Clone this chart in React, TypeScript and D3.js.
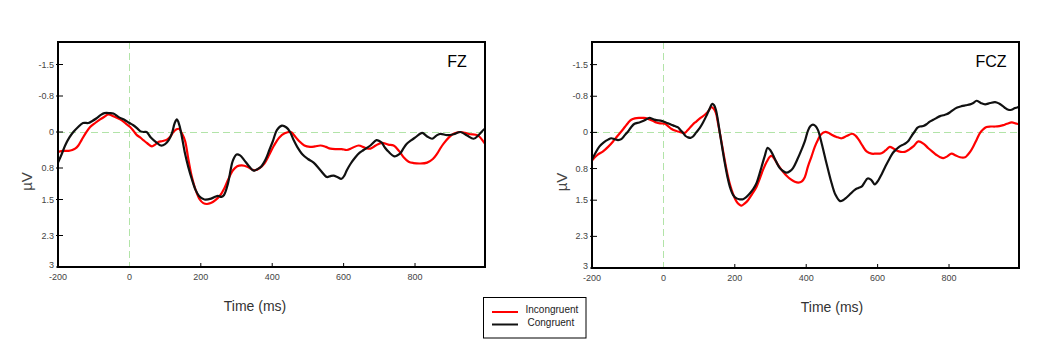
import React, { useEffect, useRef } from 'react';
import * as d3 from 'd3';

// [time in ms, amplitude in µV]; negative is plotted upward
const fzCongruent: [number, number][] = [
  [-200, 0.68], [-190, 0.5], [-180, 0.3], [-168, 0.12], [-157, 0.0], [-145, -0.1], [-130, -0.2], [-115, -0.2],
  [-105, -0.24], [-93, -0.3], [-80, -0.38], [-70, -0.42], [-55, -0.42], [-45, -0.41], [-30, -0.33], [-12, -0.26],
  [0, -0.2], [11, -0.15], [22, -0.08], [30, -0.02], [40, 0.0], [48, 0.0], [60, 0.12], [77, 0.24], [88, 0.3],
  [100, 0.27], [110, 0.18], [119, 0.03], [127, -0.2], [133, -0.28], [140, -0.15], [148, 0.15], [155, 0.45],
  [165, 0.78], [175, 1.05], [185, 1.28], [195, 1.42], [210, 1.5], [229, 1.48], [240, 1.44], [248, 1.42],
  [258, 1.44], [265, 1.4], [276, 1.15], [284, 0.82], [290, 0.63], [300, 0.5], [310, 0.52], [322, 0.63],
  [335, 0.76], [348, 0.86], [360, 0.82], [370, 0.76], [382, 0.6], [392, 0.4], [402, 0.2], [413, -0.04],
  [427, -0.14], [440, -0.1], [450, 0.0], [460, 0.18], [470, 0.33], [485, 0.5], [500, 0.6], [516, 0.68],
  [535, 0.85], [553, 1.0], [563, 0.98], [572, 0.97], [582, 1.0], [594, 1.04], [602, 0.97], [609, 0.85],
  [620, 0.7], [633, 0.56], [645, 0.46], [656, 0.4], [675, 0.3], [692, 0.18], [700, 0.2], [707, 0.24],
  [716, 0.35], [726, 0.44], [742, 0.54], [750, 0.52], [759, 0.47], [768, 0.36], [777, 0.26], [790, 0.18],
  [801, 0.12], [820, 0.02], [834, 0.1], [848, 0.15], [860, 0.08], [871, 0.04], [890, 0.07], [908, 0.05],
  [927, 0.0], [946, 0.08], [964, 0.15], [978, 0.07], [992, -0.05], [998, -0.08],
];

const fzIncongruent: [number, number][] = [
  [-200, 0.44], [-185, 0.42], [-170, 0.42], [-160, 0.4], [-152, 0.37], [-143, 0.3], [-134, 0.18], [-122, 0.02],
  [-110, -0.11], [-96, -0.2], [-82, -0.28], [-70, -0.34], [-59, -0.39], [-45, -0.35], [-26, -0.28], [-12, -0.2],
  [2, -0.11], [12, -0.02], [21, 0.07], [30, 0.12], [39, 0.18], [50, 0.25], [63, 0.32], [72, 0.28], [81, 0.22],
  [93, 0.2], [105, 0.17], [115, 0.1], [123, 0.0], [132, -0.06], [139, -0.07], [147, 0.03], [156, 0.2],
  [165, 0.6], [175, 1.0], [186, 1.3], [197, 1.5], [207, 1.58], [217, 1.6], [228, 1.58], [240, 1.52],
  [255, 1.4], [266, 1.25], [277, 1.05], [290, 0.85], [302, 0.76], [315, 0.74], [330, 0.77], [345, 0.84],
  [352, 0.85], [365, 0.8], [378, 0.7], [392, 0.5], [405, 0.3], [420, 0.12], [435, 0.03], [452, 0.0],
  [462, 0.08], [475, 0.2], [490, 0.3], [506, 0.33], [520, 0.32], [535, 0.3], [550, 0.33], [563, 0.37],
  [580, 0.38], [595, 0.38], [609, 0.4], [625, 0.35], [642, 0.3], [660, 0.35], [675, 0.37], [690, 0.3],
  [707, 0.24], [725, 0.28], [740, 0.3], [755, 0.42], [768, 0.56], [782, 0.66], [796, 0.69], [815, 0.7],
  [834, 0.68], [850, 0.6], [862, 0.48], [872, 0.35], [880, 0.26], [895, 0.12], [908, 0.04], [927, 0.0],
  [940, 0.02], [955, 0.05], [970, 0.06], [980, 0.1], [992, 0.22], [998, 0.28],
];

const fczCongruent: [number, number][] = [
  [-200, 0.6], [-190, 0.45], [-179, 0.31], [-167, 0.22], [-155, 0.16], [-146, 0.13], [-137, 0.15], [-127, 0.17],
  [-118, 0.15], [-108, 0.06], [-99, -0.02], [-90, -0.12], [-81, -0.19], [-68, -0.22], [-57, -0.25], [-45, -0.3],
  [-39, -0.32], [-28, -0.29], [-20, -0.27], [-8, -0.26], [4, -0.23], [13, -0.2], [22, -0.17], [32, -0.14],
  [41, -0.11], [48, -0.05], [55, 0.01], [62, 0.08], [69, 0.11], [76, 0.12], [83, 0.09], [92, 0.0], [102, -0.1],
  [111, -0.22], [120, -0.36], [128, -0.5], [137, -0.63], [142, -0.6], [147, -0.5], [152, -0.3], [158, 0.01],
  [165, 0.35], [172, 0.68], [179, 0.97], [186, 1.2], [195, 1.38], [205, 1.46], [214, 1.48], [223, 1.48],
  [232, 1.43], [242, 1.35], [252, 1.25], [261, 1.12], [268, 0.95], [275, 0.76], [284, 0.52], [292, 0.34],
  [300, 0.4], [307, 0.5], [316, 0.65], [326, 0.79], [336, 0.86], [345, 0.89], [354, 0.86], [363, 0.79],
  [375, 0.6], [387, 0.38], [396, 0.2], [405, -0.04], [412, -0.14], [419, -0.17], [426, -0.14], [433, -0.05],
  [442, 0.2], [452, 0.53], [462, 0.85], [471, 1.12], [482, 1.38], [495, 1.52], [503, 1.5], [513, 1.44],
  [525, 1.35], [536, 1.27], [546, 1.23], [555, 1.2], [564, 1.1], [572, 1.02], [582, 1.05], [592, 1.15],
  [602, 1.06], [611, 0.93], [622, 0.75], [634, 0.57], [643, 0.45], [653, 0.37], [662, 0.31], [672, 0.27],
  [680, 0.23], [686, 0.19], [695, 0.08], [704, -0.02], [711, -0.1], [718, -0.13], [728, -0.14], [737, -0.18],
  [746, -0.24], [756, -0.28], [765, -0.32], [775, -0.36], [784, -0.38], [793, -0.4], [802, -0.44], [812, -0.5],
  [823, -0.55], [835, -0.58], [847, -0.6], [859, -0.62], [868, -0.65], [877, -0.7], [889, -0.65], [901, -0.62],
  [915, -0.65], [929, -0.67], [940, -0.64], [948, -0.6], [957, -0.54], [966, -0.5], [975, -0.5], [985, -0.54],
  [996, -0.56],
];

const fczIncongruent: [number, number][] = [
  [-200, 0.62], [-185, 0.5], [-169, 0.42], [-155, 0.32], [-141, 0.2], [-130, 0.09], [-118, -0.02], [-108, -0.12],
  [-99, -0.21], [-90, -0.28], [-80, -0.31], [-67, -0.32], [-55, -0.32], [-43, -0.3], [-30, -0.26], [-20, -0.22],
  [-8, -0.2], [4, -0.19], [13, -0.14], [22, -0.08], [32, -0.04], [41, -0.02], [50, 0.0], [60, 0.01], [67, -0.04],
  [74, -0.1], [83, -0.18], [92, -0.24], [104, -0.32], [116, -0.39], [126, -0.47], [134, -0.56], [141, -0.52],
  [147, -0.43], [153, -0.2], [160, 0.09], [168, 0.45], [177, 0.83], [184, 1.08], [191, 1.27], [198, 1.42],
  [205, 1.53], [212, 1.59], [219, 1.62], [228, 1.57], [237, 1.5], [248, 1.37], [261, 1.2], [270, 1.02],
  [279, 0.83], [290, 0.64], [298, 0.54], [303, 0.52], [312, 0.6], [321, 0.72], [333, 0.85], [345, 0.96],
  [357, 1.04], [368, 1.09], [378, 1.11], [387, 1.09], [396, 0.99], [405, 0.75], [415, 0.53], [424, 0.32],
  [433, 0.16], [442, 0.04], [454, -0.01], [462, 0.01], [471, 0.05], [485, 0.1], [499, 0.13], [513, 0.08],
  [529, 0.03], [538, 0.07], [547, 0.16], [558, 0.3], [569, 0.42], [583, 0.47], [595, 0.47], [611, 0.46],
  [622, 0.4], [634, 0.32], [643, 0.35], [653, 0.4], [665, 0.43], [676, 0.43], [688, 0.38], [700, 0.31],
  [714, 0.2], [730, 0.26], [742, 0.35], [754, 0.43], [765, 0.5], [775, 0.55], [784, 0.57], [795, 0.53],
  [807, 0.47], [819, 0.51], [831, 0.55], [845, 0.55], [852, 0.5], [860, 0.42], [868, 0.31], [878, 0.15],
  [887, 0.01], [896, -0.07], [905, -0.12], [917, -0.13], [929, -0.13], [941, -0.14], [952, -0.16], [962, -0.19],
  [976, -0.22], [986, -0.2], [996, -0.18],
];

const yTicks = [-1.5, -0.8, 0, 0.8, 1.5, 2.3, 3];
const xTicks = [-200, 0, 200, 400, 600, 800];
const legendLabels = ['Incongruent', 'Congruent'];

const RED = '#ff0000';
const BLACK = '#111111';
const GRID = '#b2e4a8';

const panels = [
  { title: 'FZ', congruent: fzCongruent, incongruent: fzIncongruent, left: 58, right: 485, top: 42, bottom: 267, timeX: 255, uvX: 27 },
  { title: 'FCZ', congruent: fczCongruent, incongruent: fczIncongruent, left: 592, right: 1019, top: 42, bottom: 268, timeX: 832, uvX: 562 },
];

const App = () => {
  const svgRef = useRef<SVGSVGElement>(null);

  useEffect(() => {
    const svg = d3.select(svgRef.current);
    svg.selectAll('*').remove();
    const font = 'Liberation Sans, Arial, sans-serif';

    panels.forEach((p, i) => {
      const x = d3.scaleLinear().domain([-200, 996]).range([p.left, p.right]);
      const y = d3.scaleLinear().domain([-2, 3]).range([p.top, p.bottom]);
      const g = svg.append('g');

      const clipId = `clip-${i}`;
      svg.append('defs').append('clipPath').attr('id', clipId)
        .append('rect').attr('x', p.left).attr('y', p.top)
        .attr('width', p.right - p.left).attr('height', p.bottom - p.top);

      // zero reference lines, snapped to the pixel grid so they stay crisp
      const y0 = Math.round(y(0)) + 0.5;
      const x0 = Math.round(x(0)) + 0.5;
      g.append('line')
        .attr('x1', p.left).attr('x2', p.right).attr('y1', y0).attr('y2', y0)
        .attr('stroke', GRID).attr('stroke-width', 1).attr('stroke-dasharray', '7,4');
      g.append('line')
        .attr('x1', x0).attr('x2', x0).attr('y1', p.top).attr('y2', p.bottom)
        .attr('stroke', GRID).attr('stroke-width', 1).attr('stroke-dasharray', '7,4');

      const line = d3.line<[number, number]>()
        .x(d => x(d[0]))
        .y(d => y(d[1]))
        .curve(d3.curveCatmullRom.alpha(0.5));

      const lines = g.append('g').attr('clip-path', `url(#${clipId})`);
      lines.append('path').attr('d', line(p.incongruent) || '')
        .attr('fill', 'none').attr('stroke', RED).attr('stroke-width', 2.2);
      lines.append('path').attr('d', line(p.congruent) || '')
        .attr('fill', 'none').attr('stroke', BLACK).attr('stroke-width', 2.2);

      // frame
      g.append('rect')
        .attr('x', p.left).attr('y', p.top)
        .attr('width', p.right - p.left).attr('height', p.bottom - p.top)
        .attr('fill', 'none').attr('stroke', '#000').attr('stroke-width', 2);

      // y ticks
      yTicks.forEach(t => {
        g.append('line')
          .attr('x1', p.left - 2).attr('x2', p.left + 5).attr('y1', y(t)).attr('y2', y(t))
          .attr('stroke', '#000').attr('stroke-width', 1);
        g.append('text')
          .attr('x', p.left - 4).attr('y', y(t) + (t === 3 ? 1 : 3))
          .attr('text-anchor', 'end')
          .attr('font-family', font).attr('font-size', 9).attr('fill', '#444')
          .text(t);
      });

      // x ticks
      xTicks.forEach(t => {
        if (t > -200 && t !== 0) {
          g.append('line')
            .attr('x1', x(t)).attr('x2', x(t)).attr('y1', p.bottom).attr('y2', p.bottom - 4)
            .attr('stroke', '#000').attr('stroke-width', 1);
        }
        g.append('text')
          .attr('x', x(t)).attr('y', p.bottom + 13)
          .attr('text-anchor', 'middle')
          .attr('font-family', font).attr('font-size', 9).attr('fill', '#444')
          .text(t);
      });

      g.append('text')
        .attr('x', p.timeX).attr('y', p.bottom + 44)
        .attr('text-anchor', 'middle')
        .attr('font-family', font).attr('font-size', 14).attr('fill', '#333')
        .text('Time (ms)');

      g.append('text')
        .attr('transform', `translate(${p.uvX + 5},${(p.top + p.bottom) / 2 + 27}) rotate(-90)`)
        .attr('text-anchor', 'middle')
        .attr('font-family', font).attr('font-size', 15).attr('fill', '#444')
        .text('µV');

      g.append('text')
        .attr('x', p.right - 28).attr('y', p.top + 25)
        .attr('text-anchor', 'middle')
        .attr('font-family', font).attr('font-size', 16).attr('fill', '#000')
        .text(p.title);
    });

    // legend
    const lg = svg.append('g');
    lg.append('rect').attr('x', 483.5).attr('y', 297.5).attr('width', 102.5).attr('height', 40.5)
      .attr('fill', '#fff').attr('stroke', '#000').attr('stroke-width', 1);
    legendLabels.forEach((label, i) => {
      const ly = 312 + i * 12.5;
      lg.append('line').attr('x1', 492).attr('x2', 518).attr('y1', ly).attr('y2', ly)
        .attr('stroke', i === 0 ? RED : BLACK).attr('stroke-width', 2);
      lg.append('text').attr('x', i === 0 ? 525.5 : 527.5).attr('y', ly + 1)
        .attr('font-family', font).attr('font-size', 10).attr('fill', '#222')
        .text(label);
    });
  }, []);

  return (
    <div style={{ position: 'absolute', left: 0, top: 0, background: '#fff' }}>
      <svg ref={svgRef} width={1052} height={352} style={{ display: 'block' }} />
    </div>
  );
};

export default App;
